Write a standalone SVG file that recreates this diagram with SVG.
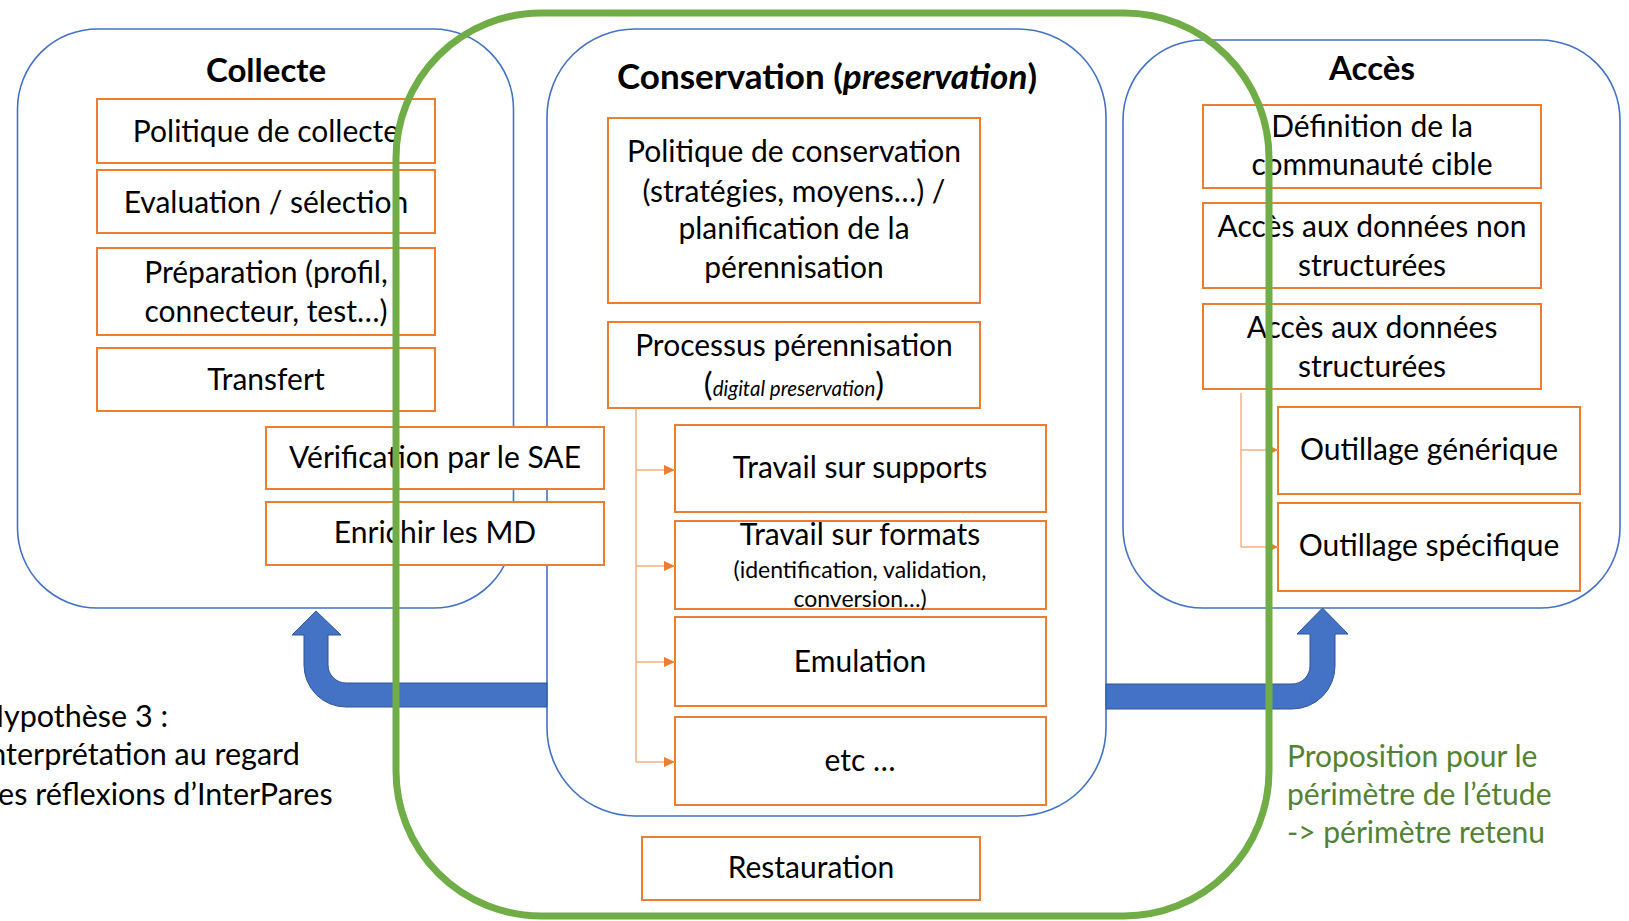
<svg xmlns="http://www.w3.org/2000/svg" width="1629" height="921" viewBox="0 0 1629 921">
<style>
.bg{fill:#fff}
.grp{fill:#fff;stroke:#4472C4;stroke-width:1.6}
.box{fill:#fff;stroke:#ED7D31;stroke-width:2}
.t{font-family:Lato,"Liberation Sans",sans-serif;font-size:30px;fill:#000;text-anchor:middle}
.title{font-family:Lato,"Liberation Sans",sans-serif;font-size:33px;font-weight:bold;fill:#000;text-anchor:middle}
.title.big{font-size:35px}
.sm{font-size:23px}
.it{font-style:italic;font-size:20.5px}
.par{font-size:33px}
.conn{fill:none;stroke:#F4B183;stroke-width:1.5}
.barrow{fill:#4472C4;stroke:#2F5597;stroke-width:1}
.scope{fill:none;stroke:#70AD47;stroke-width:7}
.note{font-family:Lato,"Liberation Sans",sans-serif;font-size:30.5px;fill:#000}
.gnote{font-family:Lato,"Liberation Sans",sans-serif;font-size:30px;fill:#548235}
</style>
<defs>
<marker id="ah" markerUnits="userSpaceOnUse" markerWidth="11" markerHeight="10" refX="11" refY="5" orient="auto">
<path d="M0,0 L11,5 L0,10 Z" fill="#ED7D31"/>
</marker>
<marker id="ahs" markerUnits="userSpaceOnUse" markerWidth="7" markerHeight="7" refX="7" refY="3.5" orient="auto">
<path d="M0,0 L7,3.5 L0,7 Z" fill="#ED7D31"/>
</marker>
</defs>
<rect class="bg" x="0" y="0" width="1629" height="921"/>

<g id="collecte">
<rect class="grp" x="17.5" y="29" width="496" height="579" rx="80"/>
<text class="title" x="266" y="82">Collecte</text>
</g>
<g id="conservation">
<rect class="grp" x="547" y="29" width="559" height="787" rx="88"/>
<text class="title big" x="827" y="89">Conservation (<tspan font-style="italic">preservation</tspan>)</text>
</g>
<g id="acces">
<rect class="grp" x="1123" y="40" width="497" height="568" rx="80"/>
<text class="title" x="1372" y="80">Accès</text>
</g>

<g id="arrows">
<path class="barrow" d="M547,683 L346,683 A18,18 0 0 1 328,665 L328,635 L341,635 L316,611 L292,635 L304,635 L304,665 A42,42 0 0 0 346,707 L547,707 Z"/>
<path class="barrow" d="M1106,684 L1292,684 A18,18 0 0 0 1310,666 L1310,634 L1297,634 L1322.5,608 L1348,634 L1335,634 L1335,666 A43,43 0 0 1 1292,709 L1106,709 Z"/>
</g>

<g id="politique-collecte"><rect class="box" x="97" y="99" width="338" height="64"/><text class="t" x="266" y="142">Politique de collecte</text></g>
<g id="evaluation"><rect class="box" x="97" y="170" width="338" height="63"/><text class="t" x="266" y="213">Evaluation / sélection</text></g>
<g id="preparation"><rect class="box" x="97" y="248" width="338" height="87"/><text class="t" x="266" y="283">Préparation (profil,</text><text class="t" x="266" y="322">connecteur, test…)</text></g>
<g id="transfert"><rect class="box" x="97" y="348" width="338" height="63"/><text class="t" x="266" y="390">Transfert</text></g>
<g id="verification"><rect class="box" x="266" y="427" width="338" height="62"/><text class="t" x="435" y="468">Vérification par le SAE</text></g>
<g id="enrichir"><rect class="box" x="266" y="502" width="338" height="63"/><text class="t" x="435" y="543">Enrichir les MD</text></g>

<g id="politique-conservation"><rect class="box" x="608" y="118" width="372" height="185"/>
<text class="t" x="794" y="162">Politique de conservation</text>
<text class="t" x="794" y="202">(stratégies, moyens…) /</text>
<text class="t" x="794" y="239">planification de la</text>
<text class="t" x="794" y="278">pérennisation</text></g>
<g id="processus"><rect class="box" x="608" y="322" width="372" height="86"/>
<text class="t" x="794" y="356">Processus pérennisation</text>
<text class="t" x="794" y="396"><tspan class="par">(</tspan><tspan class="it">digital preservation</tspan><tspan class="par">)</tspan></text></g>
<g id="supports"><rect class="box" x="675" y="425" width="371" height="87"/><text class="t" x="860" y="478">Travail sur supports</text></g>
<g id="formats"><rect class="box" x="675" y="521" width="371" height="88"/>
<text class="t" x="860" y="545">Travail sur formats</text>
<text class="t sm" x="860" y="578">(identification, validation,</text>
<text class="t sm" x="860" y="607">conversion…)</text></g>
<g id="emulation"><rect class="box" x="675" y="617" width="371" height="89"/><text class="t" x="860" y="672">Emulation</text></g>
<g id="etc"><rect class="box" x="675" y="717" width="371" height="88"/><text class="t" x="860" y="771">etc …</text></g>
<g id="restauration"><rect class="box" x="642" y="837" width="338" height="63"/><text class="t" x="811" y="878">Restauration</text></g>

<g id="definition"><rect class="box" x="1203" y="105" width="338" height="83"/><text class="t" x="1372" y="137">Définition de la</text><text class="t" x="1372" y="175">communauté cible</text></g>
<g id="non-structurees"><rect class="box" x="1203" y="203" width="338" height="85"/><text class="t" x="1372" y="237">Accès aux données non</text><text class="t" x="1372" y="276">structurées</text></g>
<g id="structurees"><rect class="box" x="1203" y="304" width="338" height="85"/><text class="t" x="1372" y="338">Accès aux données</text><text class="t" x="1372" y="377">structurées</text></g>
<g id="generique"><rect class="box" x="1278" y="407" width="302" height="87"/><text class="t" x="1429" y="460">Outillage générique</text></g>
<g id="specifique"><rect class="box" x="1278" y="503" width="302" height="88"/><text class="t" x="1429" y="556">Outillage spécifique</text></g>

<g id="connectors">
<path class="conn" d="M636,409 L636,762"/>
<path class="conn" d="M636,470 L675,470" marker-end="url(#ah)"/>
<path class="conn" d="M636,566 L675,566" marker-end="url(#ah)"/>
<path class="conn" d="M636,662 L675,662" marker-end="url(#ah)"/>
<path class="conn" d="M636,762 L675,762" marker-end="url(#ah)"/>
<path class="conn" d="M1241,393 L1241,547"/>
<path class="conn" d="M1241,450 L1278,450" marker-end="url(#ahs)"/>
<path class="conn" d="M1241,547 L1278,547" marker-end="url(#ahs)"/>
</g>

<g id="scope">
<rect class="scope" x="396" y="13" width="873" height="903" rx="145"/>
</g>

<g id="hypothese">
<text class="note" x="-19" y="727">Hypothèse 3 :</text>
<text class="note" x="-19" y="765">Interprétation au regard</text>
<text class="note" x="-19" y="805">des réflexions d’InterPares</text>
</g>
<g id="proposition">
<text class="gnote" x="1287" y="767">Proposition pour le</text>
<text class="gnote" x="1287" y="805">périmètre de l’étude</text>
<text class="gnote" x="1287" y="843">-&gt; périmètre retenu</text>
</g>
</svg>
